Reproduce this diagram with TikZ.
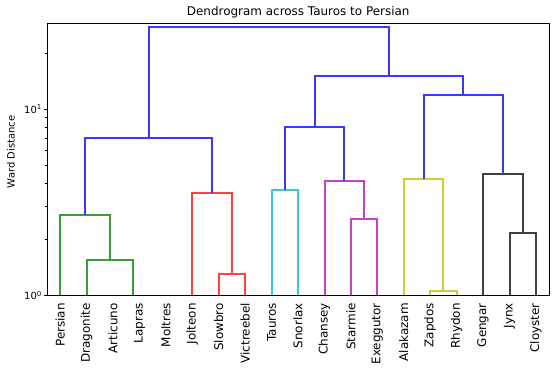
\documentclass[tikz,border=0pt]{standalone}
\usepackage{fontspec}
\setmainfont{DejaVu Sans}
\usepackage{tikz}
\usetikzlibrary{positioning}

\begin{document}
\begin{tikzpicture}[x=1bp, y=1bp, lk/.style={line width=2bp},
  leaf/.style={rotate=90, anchor=east, inner sep=0pt, font=\fontsize{12}{14}\selectfont},
  ticklbl/.style={anchor=east, inner sep=0pt, font=\fontsize{10}{12}\selectfont}]
%%
  \definecolor{dgblue}{rgb}{0.22,0.22,1.0}
  \definecolor{dggreen}{rgb}{0.22,0.62,0.22}
  \definecolor{dgred}{rgb}{1.0,0.25,0.25}
  \definecolor{dgcyan}{rgb}{0.25,0.78,0.78}
  \definecolor{dgmagenta}{rgb}{0.78,0.25,0.78}
  \definecolor{dgyellow}{rgb}{0.80,0.80,0.22}
  \definecolor{dgblack}{rgb}{0.25,0.25,0.25}
  \useasboundingbox (0,0) rectangle (556bp,371bp);
  % leaves
  \coordinate (persian) at (60bp,76bp);
  \coordinate (dragonite) at (87bp,76bp);
  \coordinate (articuno) at (113bp,76bp);
  \coordinate (lapras) at (139bp,76bp);
  \coordinate (moltres) at (166bp,76bp);
  \coordinate (jolteon) at (192bp,76bp);
  \coordinate (slowbro) at (219bp,76bp);
  \coordinate (victreebel) at (245bp,76bp);
  \coordinate (tauros) at (272bp,76bp);
  \coordinate (snorlax) at (298bp,76bp);
  \coordinate (chansey) at (325bp,76bp);
  \coordinate (starmie) at (351bp,76bp);
  \coordinate (exeggutor) at (377bp,76bp);
  \coordinate (alakazam) at (404bp,76bp);
  \coordinate (zapdos) at (430bp,76bp);
  \coordinate (rhydon) at (457bp,76bp);
  \coordinate (gengar) at (483bp,76bp);
  \coordinate (jynx) at (510bp,76bp);
  \coordinate (cloyster) at (536bp,76bp);
  % leaf labels
  \node (persianlbl) at (60.2bp,68bp) [leaf] {Persian};
  \node (dragonitelbl) at (86.6bp,68bp) [leaf] {Dragonite};
  \node (articunolbl) at (113.0bp,68bp) [leaf] {Articuno};
  \node (lapraslbl) at (139.5bp,68bp) [leaf] {Lapras};
  \node (moltreslbl) at (165.9bp,68bp) [leaf] {Moltres};
  \node (jolteonlbl) at (192.3bp,68bp) [leaf] {Jolteon};
  \node (slowbrolbl) at (218.7bp,68bp) [leaf] {Slowbro};
  \node (victreebellbl) at (245.1bp,68bp) [leaf] {Victreebel};
  \node (tauroslbl) at (271.6bp,68bp) [leaf] {Tauros};
  \node (snorlaxlbl) at (298.0bp,68bp) [leaf] {Snorlax};
  \node (chanseylbl) at (324.4bp,68bp) [leaf] {Chansey};
  \node (starmielbl) at (350.8bp,68bp) [leaf] {Starmie};
  \node (exeggutorlbl) at (377.3bp,68bp) [leaf] {Exeggutor};
  \node (alakazamlbl) at (403.7bp,68bp) [leaf] {Alakazam};
  \node (zapdoslbl) at (430.1bp,68bp) [leaf] {Zapdos};
  \node (rhydonlbl) at (456.5bp,68bp) [leaf] {Rhydon};
  \node (gengarlbl) at (482.9bp,68bp) [leaf] {Gengar};
  \node (jynxlbl) at (509.4bp,68bp) [leaf] {Jynx};
  \node (cloysterlbl) at (535.8bp,68bp) [leaf] {Cloyster};
  % merges
  \coordinate (hid) at (133bp,76bp);
  \coordinate (g1) at (110bp,111bp);
  \coordinate (g2) at (85bp,156bp);
  \coordinate (r1) at (232bp,97bp);
  \coordinate (r2) at (212bp,178bp);
  \coordinate (c1) at (285bp,181bp);
  \coordinate (m1) at (364bp,152bp);
  \coordinate (m2) at (344bp,190bp);
  \coordinate (y1) at (443bp,80bp);
  \coordinate (y2) at (424bp,192bp);
  \coordinate (k1) at (523bp,138bp);
  \coordinate (k2) at (503bp,197bp);
  \coordinate (b1) at (149bp,233bp);
  \coordinate (b2) at (315bp,244bp);
  \coordinate (b3) at (463bp,276bp);
  \coordinate (b4) at (389bp,295bp);
  \coordinate (b5) at (269bp,344bp);
  \draw [lk, dggreen] (dragonite) |- (g1) -| (hid);
  \draw [lk, dggreen] (persian) |- (g2) -| (g1);
  \draw [lk, dgred] (slowbro) |- (r1) -| (victreebel);
  \draw [lk, dgred] (jolteon) |- (r2) -| (r1);
  \draw [lk, dgcyan] (tauros) |- (c1) -| (snorlax);
  \draw [lk, dgmagenta] (starmie) |- (m1) -| (exeggutor);
  \draw [lk, dgmagenta] (chansey) |- (m2) -| (m1);
  \draw [lk, dgyellow] (zapdos) |- (y1) -| (rhydon);
  \draw [lk, dgyellow] (alakazam) |- (y2) -| (y1);
  \draw [lk, dgblack] (jynx) |- (k1) -| (cloyster);
  \draw [lk, dgblack] (gengar) |- (k2) -| (k1);
  \draw [lk, dgblue] (g2) |- (b1) -| (r2);
  \draw [lk, dgblue] (c1) |- (b2) -| (m2);
  \draw [lk, dgblue] (y2) |- (b3) -| (k2);
  \draw [lk, dgblue] (b2) |- (b4) -| (b3);
  \draw [lk, dgblue] (b1) |- (b5) -| (b4);
  % axes
  \draw [line width=1bp] (47.5bp,75.5bp) rectangle (549.5bp,347.5bp);
  \draw [line width=1bp] (47bp,261.5bp) -- ++(-3.5bp,0);
  \draw [line width=1bp] (47bp,75.5bp) -- ++(-3.5bp,0);
  \draw [line width=0.8bp] (47bp,131.5bp) -- ++(-2bp,0);
  \draw [line width=0.8bp] (47bp,164.5bp) -- ++(-2bp,0);
  \draw [line width=0.8bp] (47bp,187.5bp) -- ++(-2bp,0);
  \draw [line width=0.8bp] (47bp,205.5bp) -- ++(-2bp,0);
  \draw [line width=0.8bp] (47bp,220.5bp) -- ++(-2bp,0);
  \draw [line width=0.8bp] (47bp,232.5bp) -- ++(-2bp,0);
  \draw [line width=0.8bp] (47bp,243.5bp) -- ++(-2bp,0);
  \draw [line width=0.8bp] (47bp,253.5bp) -- ++(-2bp,0);
  \draw [line width=0.8bp] (47bp,317.5bp) -- ++(-2bp,0);
  \node (tick1) at (42bp,261.7bp) [ticklbl] {10\textsuperscript{1}};
  \node (tick0) at (42bp,75.7bp) [ticklbl] {10\textsuperscript{0}};
  \node (ylbl) at (11bp,219bp) [rotate=90, inner sep=0pt, font=\fontsize{10}{12}\selectfont] {Ward Distance};
  \node (title) at (298.2bp,359bp) [inner sep=0pt, font=\fontsize{12}{14}\selectfont] {Dendrogram across Tauros to Persian};
%
\end{tikzpicture}
\end{document}
